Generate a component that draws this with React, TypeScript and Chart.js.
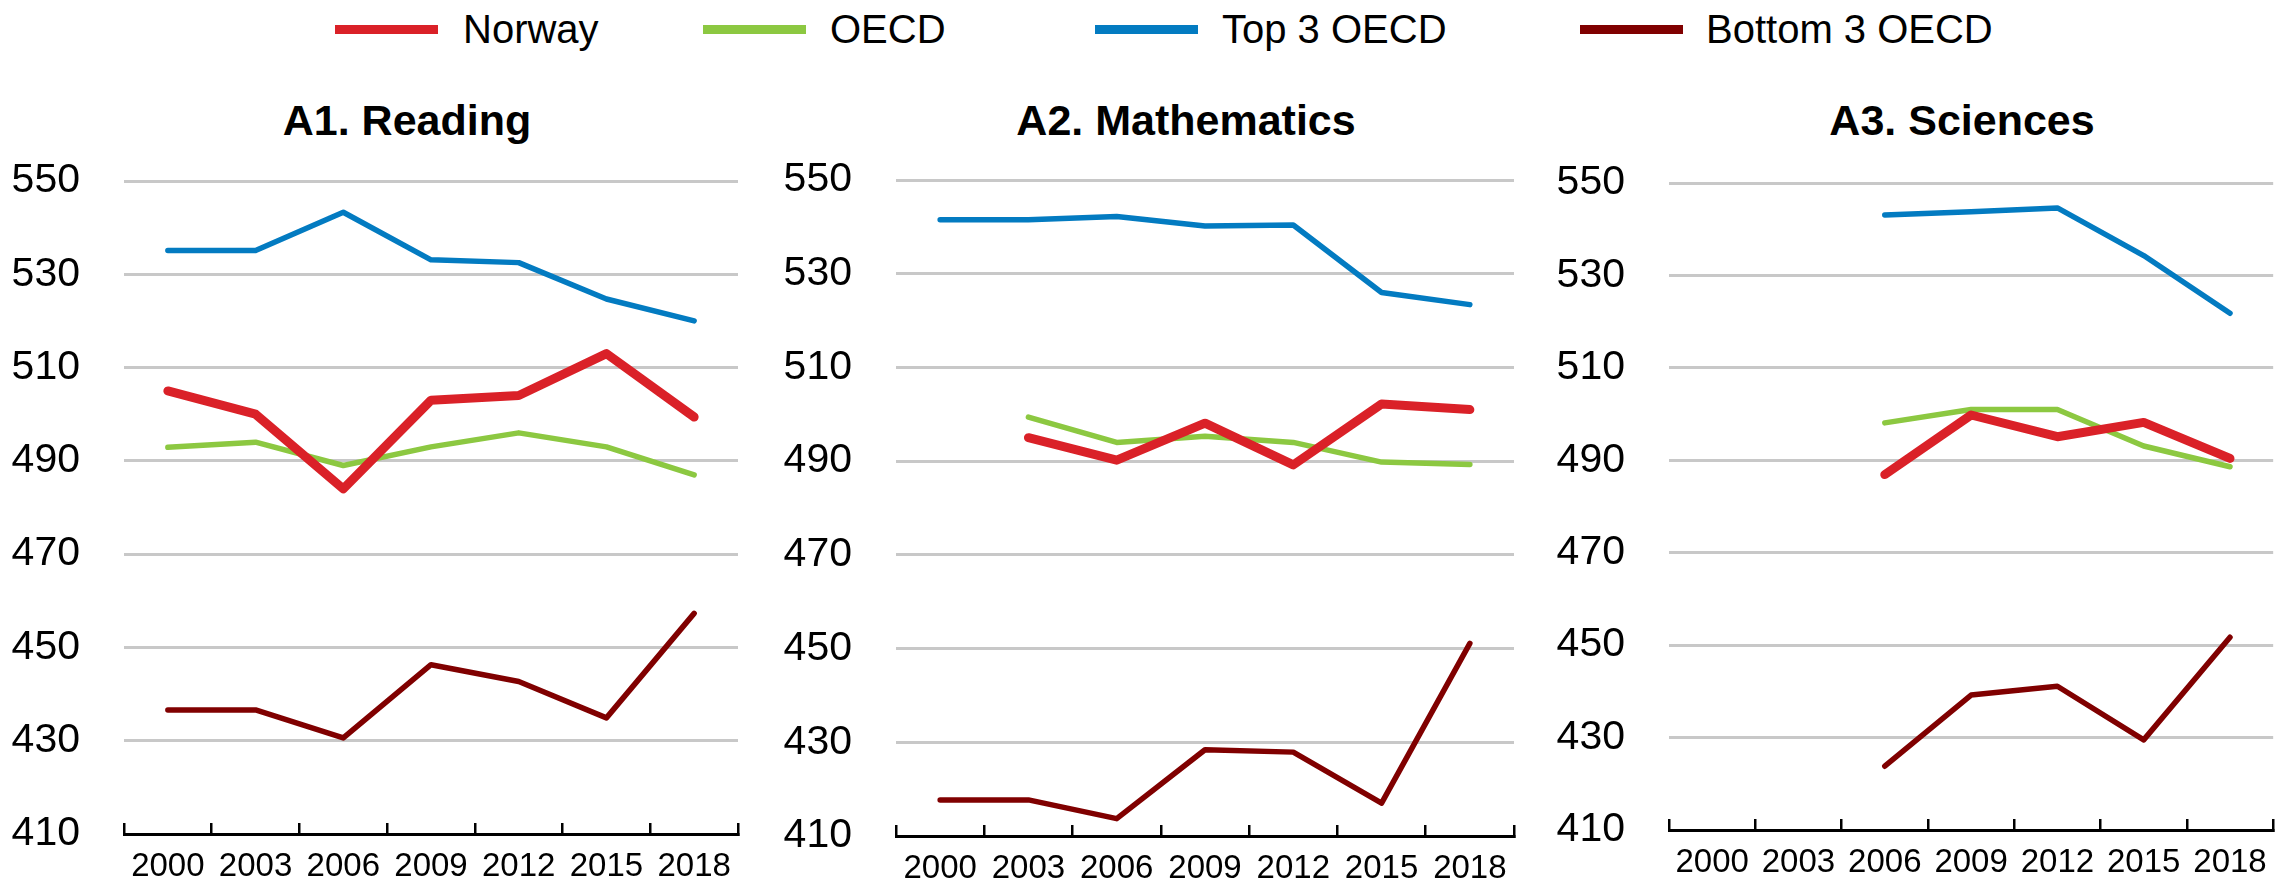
import React, { useEffect, useRef } from "react";
import { Chart, registerables } from "chart.js";

Chart.register(...registerables);

// ---------- data ----------
const years = ["2000", "2003", "2006", "2009", "2012", "2015", "2018"];
const yTicks = [410, 430, 450, 470, 490, 510, 530, 550];

const seriesNames = ["Norway", "OECD", "Top 3 OECD", "Bottom 3 OECD"];
const seriesColors = ["#DA2128", "#8CC841", "#037BC1", "#800000"];
const seriesWidths = [9, 5.5, 5.5, 5.5];

const readingNorway = [505, 500, 484, 503, 504, 513, 499.4];
const readingOECD = [492.9, 494, 489, 493, 496, 493, 487];
const readingTop3 = [535.1, 535.1, 543.3, 533.1, 532.5, 524.7, 520];
const readingBottom3 = [436.6, 436.6, 430.6, 446.3, 442.7, 434.9, 457.3];

const mathNorway = [null, 495, 490.2, 498.1, 489.2, 502.2, 501];
const mathOECD = [null, 499.4, 494, 495.3, 494, 489.8, 489.3];
const mathTop3 = [541.5, 541.5, 542.2, 540.2, 540.4, 526, 523.4];
const mathBottom3 = [417.7, 417.7, 413.7, 428.4, 427.9, 417, 451.1];

const sciNorway = [null, null, 486.9, 499.8, 495.1, 498.2, 490.4];
const sciOECD = [null, null, 498.1, 501, 501, 493.1, 488.6];
const sciTop3 = [null, null, 543.1, 543.8, 544.6, 534.3, 521.8];
const sciBottom3 = [null, null, 423.8, 439.2, 441.1, 429.5, 451.7];

const panelTitles = ["A1. Reading", "A2. Mathematics", "A3. Sciences"];

// ---------- layout ----------
const FONT = '"Liberation Sans Narrow", "Arial Narrow", "Liberation Sans", Arial, sans-serif';

const panels = [
  { title: panelTitles[0], data: [readingNorway, readingOECD, readingTop3, readingBottom3],
    left: 0, width: 760, plotLeft: 124, plotRight: 738, top: 181, bottom: 834, titleX: 407 },
  { title: panelTitles[1], data: [mathNorway, mathOECD, mathTop3, mathBottom3],
    left: 770, width: 766, plotLeft: 896, plotRight: 1514, top: 180, bottom: 836, titleX: 1186 },
  { title: panelTitles[2], data: [sciNorway, sciOECD, sciTop3, sciBottom3],
    left: 1545, width: 747, plotLeft: 1669, plotRight: 2274, top: 183, bottom: 830, titleX: 1962 },
];

const CANVAS_TOP = 130;
const CANVAS_H = 887 - CANVAS_TOP;

const legendItems = [
  { lineX: 335, textX: 463 },
  { lineX: 703, textX: 830 },
  { lineX: 1095, textX: 1222 },
  { lineX: 1580, textX: 1706 },
];

function Panel({ p }: { p: any }) {
  const ref = useRef<HTMLCanvasElement | null>(null);
  useEffect(() => {
    if (!ref.current) return;
    const yWidth = p.plotLeft - p.left;
    const padRight = p.left + p.width - p.plotRight;
    const padTop = p.top - CANVAS_TOP;
    const xHeight = CANVAS_TOP + CANVAS_H - p.bottom;
    const chart = new Chart(ref.current, {
      type: "line",
      data: {
        labels: years,
        datasets: p.data.map((d: any, i: number) => ({
          label: seriesNames[i],
          data: d,
          borderColor: seriesColors[i],
          backgroundColor: seriesColors[i],
          borderWidth: seriesWidths[i],
          pointRadius: 0,
          pointHoverRadius: 0,
          tension: 0,
          fill: false,
          spanGaps: false,
          borderCapStyle: "round",
          borderJoinStyle: "round",
        })),
      },
      options: {
        animation: false,
        responsive: false,
        maintainAspectRatio: false,
        events: [],
        layout: { padding: { left: 0, right: padRight, top: padTop, bottom: 0 } },
        plugins: {
          legend: { display: false },
          tooltip: { enabled: false },
          title: { display: false },
        },
        scales: {
          x: {
            type: "category",
            offset: true,
            grid: {
              offset: true,
              drawOnChartArea: false,
              drawTicks: true,
              tickLength: -11,
              color: "#000000",
              lineWidth: 2.5,
            },
            border: { display: true, color: "#000000", width: 3 },
            ticks: {
              color: "#000000",
              font: { family: FONT, size: 33 },
              padding: 24,
              maxRotation: 0,
              autoSkip: false,
            },
            afterFit: (s: any) => {
              s.height = xHeight;
            },
          },
          y: {
            min: 410,
            max: 550,
            afterBuildTicks: (s: any) => {
              s.ticks = yTicks.map((v) => ({ value: v }));
            },
            grid: {
              color: (ctx: any) =>
                ctx.tick && ctx.tick.value === 410 ? "rgba(0,0,0,0)" : "#c8c8c8",
              lineWidth: 3,
              drawTicks: true,
              tickLength: 44,
              tickColor: "rgba(0,0,0,0)",
            },
            border: { display: false },
            ticks: {
              color: "#000000",
              font: { family: FONT, size: 41 },
              padding: 0,
            },
            afterFit: (s: any) => {
              s.width = yWidth;
            },
          },
        },
      },
    } as any);
    return () => chart.destroy();
  }, []);
  return (
    <canvas
      ref={ref}
      width={p.width}
      height={CANVAS_H}
      style={{ position: "absolute", left: p.left, top: CANVAS_TOP, width: p.width, height: CANVAS_H }}
    />
  );
}

export default function App() {
  return (
    <div style={{ position: "absolute", left: 0, top: 0, width: 2292, height: 887, background: "#fff", overflow: "hidden" }}>
      {legendItems.map((it, i) => (
        <React.Fragment key={i}>
          <div
            style={{
              position: "absolute",
              left: it.lineX,
              top: 29 - 4.5,
              width: 103,
              height: 9,
              background: seriesColors[i],
            }}
          />
          <div
            style={{
              position: "absolute",
              left: it.textX,
              top: 29 - 30,
              height: 60,
              lineHeight: "60px",
              fontFamily: FONT,
              fontSize: 40,
              color: "#000",
              whiteSpace: "nowrap",
            }}
          >
            {seriesNames[i]}
          </div>
        </React.Fragment>
      ))}
      {panels.map((p, i) => (
        <div
          key={"t" + i}
          style={{
            position: "absolute",
            left: p.titleX,
            top: 120 - 30,
            height: 60,
            lineHeight: "60px",
            transform: "translateX(-50%)",
            fontFamily: FONT,
            fontWeight: "bold",
            fontSize: 43,
            color: "#000",
            whiteSpace: "nowrap",
          }}
        >
          {p.title}
        </div>
      ))}
      {panels.map((p, i) => (
        <Panel key={"p" + i} p={p} />
      ))}
    </div>
  );
}
